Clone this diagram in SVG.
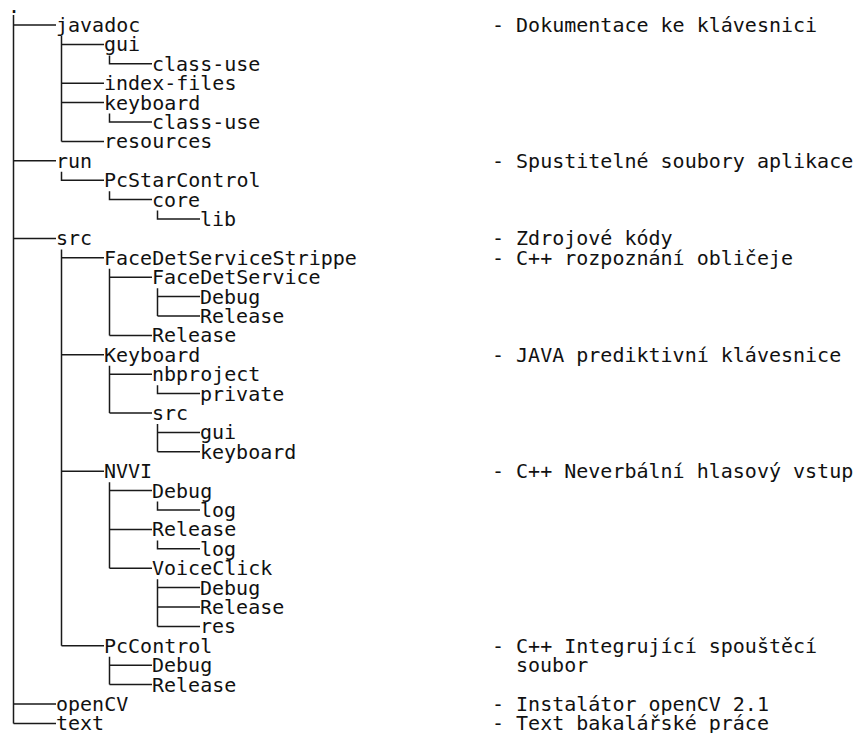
<svg xmlns="http://www.w3.org/2000/svg" width="859" height="733" viewBox="0 0 859 733">
<style>
text{font-family:"DejaVu Sans Mono","Liberation Mono",monospace;font-size:20px;fill:#111;}
.c{fill:none;stroke:#1a1a1a;stroke-width:1.5;}
</style>
<rect width="859" height="733" fill="#fff"/>
<g id="connectors" class="c">
<path d="M13.5 15V723.4M13.5 25H56M13.5 160.8H56M13.5 238.4H56M13.5 704H56M13.5 723.4H56"/>
<path d="M61.5 36V141.4M61.5 44.4H104M61.5 83.2H104M61.5 102.6H104M61.5 141.4H104"/>
<path d="M109.5 55.4V63.8H152M109.5 113.6V122H152"/>
<path d="M61.5 171.8V180.2H104M109.5 191.2V199.6H152M157.5 210.6V219H200"/>
<path d="M61.5 249.4V645.8M61.5 257.8H104M61.5 354.8H104M61.5 471.2H104M61.5 645.8H104"/>
<path d="M109.5 268.8V335.4M109.5 277.2H152M109.5 335.4H152M157.5 288.2V316M157.5 296.6H200M157.5 316H200"/>
<path d="M109.5 365.8V413M109.5 374.2H152M109.5 413H152M157.5 385.2V393.6H200M157.5 424V451.8M157.5 432.4H200M157.5 451.8H200"/>
<path d="M109.5 482.2V568.2M109.5 490.6H152M109.5 529.4H152M109.5 568.2H152M157.5 501.6V510H200M157.5 540.4V548.8H200M157.5 579.2V626.4M157.5 587.6H200M157.5 607H200M157.5 626.4H200"/>
<path d="M109.5 656.8V684.6M109.5 665.2H152M109.5 684.6H152"/>
</g>
<g id="n-root"><text x="8" y="12.6">.</text></g>
<g id="n-javadoc"><text x="56" y="32">javadoc</text><text x="492" y="32">- Dokumentace ke klávesnici</text></g>
<g id="n-javadoc-gui"><text x="104" y="51.4">gui</text></g>
<g id="n-javadoc-gui-classuse"><text x="152" y="70.8">class-use</text></g>
<g id="n-javadoc-indexfiles"><text x="104" y="90.2">index-files</text></g>
<g id="n-javadoc-keyboard"><text x="104" y="109.6">keyboard</text></g>
<g id="n-javadoc-keyboard-classuse"><text x="152" y="129">class-use</text></g>
<g id="n-javadoc-resources"><text x="104" y="148.4">resources</text></g>
<g id="n-run"><text x="56" y="167.8">run</text><text x="492" y="167.8">- Spustitelné soubory aplikace</text></g>
<g id="n-run-pcstarcontrol"><text x="104" y="187.2">PcStarControl</text></g>
<g id="n-run-core"><text x="152" y="206.6">core</text></g>
<g id="n-run-lib"><text x="200" y="226">lib</text></g>
<g id="n-src"><text x="56" y="245.4">src</text><text x="492" y="245.4">- Zdrojové kódy</text></g>
<g id="n-fdss"><text x="104" y="264.8">FaceDetServiceStrippe</text><text x="492" y="264.8">- C++ rozpoznání obličeje</text></g>
<g id="n-fds"><text x="152" y="284.2">FaceDetService</text></g>
<g id="n-fds-debug"><text x="200" y="303.6">Debug</text></g>
<g id="n-fds-release"><text x="200" y="323">Release</text></g>
<g id="n-fdss-release"><text x="152" y="342.4">Release</text></g>
<g id="n-keyboard"><text x="104" y="361.8">Keyboard</text><text x="492" y="361.8">- JAVA prediktivní klávesnice</text></g>
<g id="n-nbproject"><text x="152" y="381.2">nbproject</text></g>
<g id="n-private"><text x="200" y="400.6">private</text></g>
<g id="n-kb-src"><text x="152" y="420">src</text></g>
<g id="n-kb-gui"><text x="200" y="439.4">gui</text></g>
<g id="n-kb-keyboard"><text x="200" y="458.8">keyboard</text></g>
<g id="n-nvvi"><text x="104" y="478.2">NVVI</text><text x="492" y="478.2">- C++ Neverbální hlasový vstup</text></g>
<g id="n-nvvi-debug"><text x="152" y="497.6">Debug</text></g>
<g id="n-nvvi-debug-log"><text x="200" y="517">log</text></g>
<g id="n-nvvi-release"><text x="152" y="536.4">Release</text></g>
<g id="n-nvvi-release-log"><text x="200" y="555.8">log</text></g>
<g id="n-voiceclick"><text x="152" y="575.2">VoiceClick</text></g>
<g id="n-vc-debug"><text x="200" y="594.6">Debug</text></g>
<g id="n-vc-release"><text x="200" y="614">Release</text></g>
<g id="n-vc-res"><text x="200" y="633.4">res</text></g>
<g id="n-pccontrol"><text x="104" y="652.8">PcControl</text><text x="492" y="652.8">- C++ Integrující spouštěcí</text><text x="516" y="672.2">soubor</text></g>
<g id="n-pc-debug"><text x="152" y="672.2">Debug</text></g>
<g id="n-pc-release"><text x="152" y="691.6">Release</text></g>
<g id="n-opencv"><text x="56" y="711">openCV</text><text x="492" y="711">- Instalátor openCV 2.1</text></g>
<g id="n-text"><text x="56" y="730.4">text</text><text x="492" y="730.4">- Text bakalářské práce</text></g>
</svg>
